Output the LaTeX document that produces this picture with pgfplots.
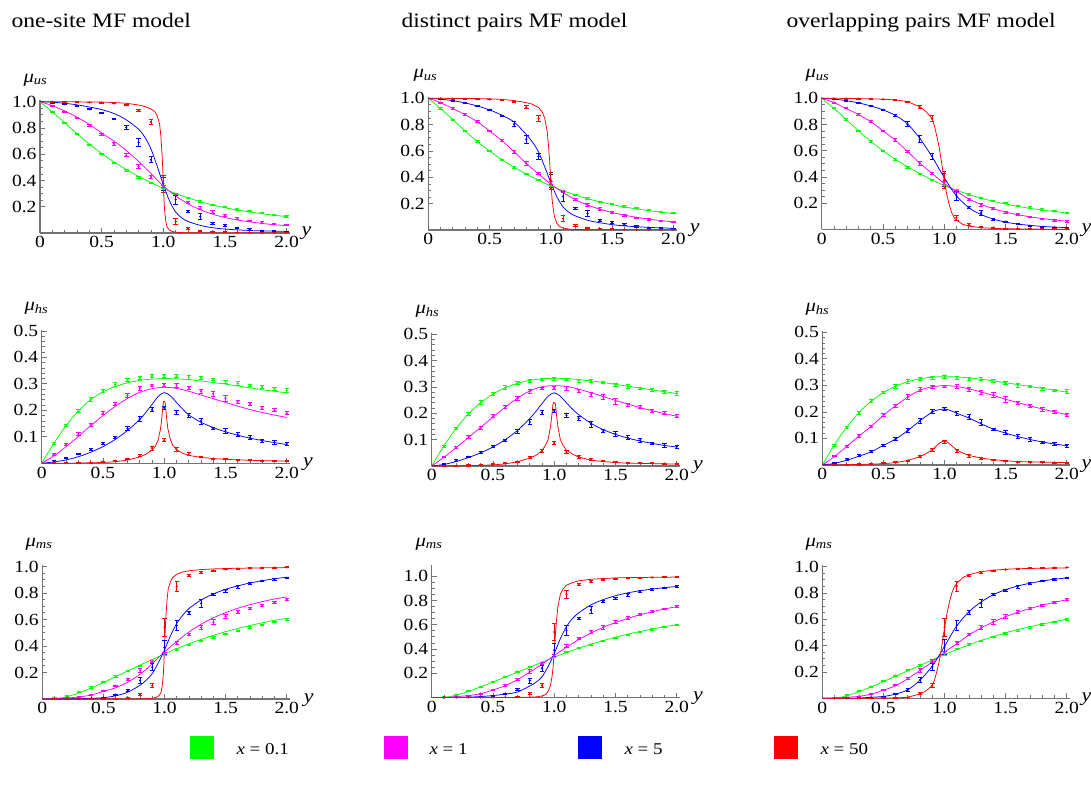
\documentclass[border=0pt]{standalone}
\usepackage{fontspec}
\setmainfont{Liberation Serif}[FakeStretch=1.15]
\usepackage{pgfplots}
\usepackage{pgfplotstable}
\pgfplotsset{compat=1.18}
\definecolor{cg}{RGB}{0,255,0}
\definecolor{cp}{RGB}{255,0,255}
\definecolor{cb}{RGB}{0,0,255}
\definecolor{cr}{RGB}{255,0,0}

% ---------- simulation data (same in all columns) ----------
\pgfplotstableread{
t g ge p pe b be r re
0.1 0.924 0.005 0.967 0.004 0.993 0.003 0.999 0.003
0.2 0.838 0.005 0.924 0.005 0.982 0.003 0.998 0.003
0.3 0.752 0.005 0.877 0.005 0.965 0.003 0.997 0.003
0.4 0.671 0.006 0.822 0.008 0.942 0.004 0.995 0.003
0.5 0.600 0.005 0.751 0.006 0.913 0.004 0.992 0.003
0.6 0.532 0.006 0.680 0.010 0.868 0.005 0.987 0.003
0.7 0.474 0.007 0.593 0.010 0.803 0.018 0.973 0.005
0.8 0.424 0.005 0.505 0.015 0.690 0.030 0.932 0.010
0.9 0.379 0.005 0.427 0.008 0.558 0.022 0.845 0.022
1.0 0.335 0.008 0.355 0.010 0.375 0.050 0.375 0.065
1.1 0.298 0.005 0.292 0.008 0.254 0.035 0.088 0.020
1.2 0.265 0.005 0.230 0.008 0.167 0.008 0.035 0.008
1.3 0.240 0.005 0.188 0.012 0.125 0.022 0.016 0.004
1.4 0.215 0.005 0.158 0.010 0.074 0.007 0.008 0.003
1.5 0.199 0.005 0.132 0.008 0.057 0.006 0.005 0.003
1.6 0.180 0.005 0.112 0.006 0.040 0.006 0.003 0.003
1.7 0.166 0.005 0.093 0.006 0.027 0.004 0.002 0.003
1.8 0.152 0.005 0.080 0.006 0.018 0.004 0.001 0.003
1.9 0.138 0.005 0.068 0.005 0.013 0.003 0.001 0.003
2.0 0.127 0.005 0.060 0.005 0.010 0.003 0.001 0.003
}\dU
\pgfplotstableread{
t g ge p pe b be r re
0.1 0.075 0.004 0.034 0.003 0.007 0.002 0.001 0.002
0.2 0.142 0.004 0.070 0.004 0.020 0.003 0.001 0.002
0.3 0.197 0.005 0.110 0.005 0.035 0.003 0.002 0.002
0.4 0.241 0.007 0.145 0.005 0.052 0.003 0.003 0.002
0.5 0.274 0.005 0.189 0.006 0.074 0.004 0.006 0.002
0.6 0.297 0.008 0.223 0.006 0.098 0.004 0.010 0.002
0.7 0.315 0.007 0.256 0.008 0.131 0.007 0.017 0.002
0.8 0.323 0.006 0.284 0.007 0.167 0.010 0.031 0.004
0.9 0.329 0.005 0.294 0.005 0.203 0.007 0.057 0.007
1.0 0.331 0.006 0.296 0.005 0.210 0.006 0.087 0.006
1.1 0.329 0.005 0.295 0.008 0.193 0.008 0.053 0.007
1.2 0.324 0.006 0.285 0.006 0.181 0.008 0.035 0.005
1.3 0.323 0.006 0.272 0.008 0.159 0.011 0.024 0.003
1.4 0.317 0.005 0.263 0.009 0.133 0.004 0.018 0.002
1.5 0.308 0.005 0.246 0.012 0.122 0.008 0.015 0.002
1.6 0.301 0.007 0.233 0.006 0.108 0.008 0.012 0.002
1.7 0.295 0.004 0.223 0.006 0.097 0.007 0.011 0.002
1.8 0.288 0.006 0.209 0.007 0.085 0.005 0.010 0.002
1.9 0.281 0.004 0.200 0.006 0.079 0.007 0.009 0.002
2.0 0.276 0.007 0.189 0.005 0.073 0.005 0.009 0.002
}\dH
\pgfplotstableread{
t g ge p pe b be r re
0.1 0.006 0.004 0.001 0.003 0.000 0.002 0.000 0.002
0.2 0.025 0.004 0.006 0.003 0.001 0.002 0.000 0.002
0.3 0.054 0.004 0.014 0.003 0.002 0.002 0.000 0.002
0.4 0.088 0.005 0.033 0.004 0.005 0.002 0.000 0.002
0.5 0.130 0.005 0.062 0.004 0.010 0.003 0.001 0.002
0.6 0.171 0.005 0.100 0.006 0.033 0.004 0.002 0.002
0.7 0.213 0.005 0.150 0.007 0.065 0.010 0.006 0.003
0.8 0.250 0.006 0.215 0.015 0.140 0.020 0.035 0.008
0.9 0.287 0.005 0.283 0.010 0.240 0.025 0.100 0.015
1.0 0.334 0.006 0.345 0.010 0.390 0.055 0.540 0.070
1.1 0.376 0.006 0.423 0.012 0.555 0.040 0.850 0.035
1.2 0.408 0.005 0.486 0.010 0.652 0.012 0.932 0.010
1.3 0.436 0.005 0.541 0.015 0.722 0.030 0.957 0.008
1.4 0.466 0.006 0.580 0.018 0.790 0.008 0.970 0.004
1.5 0.493 0.005 0.622 0.015 0.818 0.010 0.978 0.003
1.6 0.516 0.005 0.655 0.010 0.848 0.012 0.984 0.003
1.7 0.539 0.005 0.684 0.008 0.872 0.008 0.987 0.003
1.8 0.561 0.005 0.706 0.008 0.892 0.006 0.990 0.003
1.9 0.582 0.005 0.728 0.006 0.904 0.006 0.992 0.003
2.0 0.600 0.005 0.752 0.006 0.915 0.005 0.994 0.003
}\dM

% ---------- one-site MF model curves ----------
\pgfplotstableread{
t u h m
0 1 0 0
0.1 0.922 0.076 0.002
0.2 0.840 0.143 0.017
0.3 0.756 0.198 0.046
0.4 0.677 0.240 0.083
0.5 0.606 0.270 0.124
0.6 0.541 0.290 0.169
0.7 0.484 0.304 0.212
0.8 0.431 0.313 0.256
0.9 0.384 0.318 0.298
1.0 0.340 0.320 0.340
1.1 0.301 0.319 0.380
1.2 0.268 0.316 0.416
1.3 0.239 0.311 0.450
1.4 0.214 0.305 0.481
1.5 0.193 0.299 0.508
1.6 0.175 0.292 0.533
1.7 0.160 0.285 0.555
1.8 0.147 0.278 0.575
1.9 0.135 0.272 0.593
2.0 0.125 0.266 0.609
}\cAg
\pgfplotstableread{
t u h m
0 1 0 0
0.1 0.970 0.028 0.002
0.2 0.930 0.063 0.007
0.3 0.882 0.102 0.016
0.4 0.828 0.142 0.030
0.5 0.762 0.180 0.058
0.6 0.700 0.215 0.085
0.7 0.628 0.245 0.127
0.8 0.545 0.268 0.187
0.9 0.452 0.282 0.266
1.0 0.357 0.287 0.356
1.1 0.283 0.283 0.434
1.2 0.222 0.272 0.506
1.3 0.177 0.258 0.565
1.4 0.143 0.244 0.613
1.5 0.118 0.230 0.652
1.6 0.099 0.216 0.685
1.7 0.085 0.203 0.712
1.8 0.073 0.192 0.735
1.9 0.063 0.182 0.755
2.0 0.056 0.173 0.771
}\cAp
\pgfplotstableread{
t u h m
0 1 0 0
0.1 0.996 0.005 0.000
0.2 0.988 0.013 0.001
0.3 0.976 0.025 0.002
0.4 0.960 0.042 0.005
0.5 0.940 0.063 0.010
0.6 0.910 0.090 0.024
0.7 0.862 0.124 0.052
0.8 0.790 0.165 0.104
0.85 0.730 0.192 0.142
0.9 0.640 0.222 0.192
0.95 0.510 0.252 0.275
1.0 0.370 0.267 0.370
1.05 0.245 0.255 0.480
1.1 0.160 0.230 0.570
1.15 0.115 0.205 0.633
1.2 0.088 0.183 0.683
1.3 0.058 0.155 0.748
1.4 0.040 0.135 0.793
1.5 0.030 0.119 0.828
1.6 0.024 0.106 0.854
1.7 0.019 0.095 0.876
1.8 0.016 0.086 0.893
1.9 0.014 0.078 0.908
2.0 0.012 0.071 0.919
}\cAb
\pgfplotstableread{
t u h m
0 1 0 0
0.2 1.000 0.000 0.000
0.4 0.998 0.002 0.000
0.5 0.997 0.003 0.000
0.6 0.994 0.006 0.000
0.7 0.988 0.012 0.000
0.8 0.975 0.024 0.001
0.85 0.963 0.034 0.003
0.9 0.945 0.050 0.006
0.93 0.925 0.066 0.012
0.95 0.895 0.088 0.022
0.97 0.830 0.130 0.045
0.98 0.740 0.170 0.090
0.99 0.600 0.220 0.180
0.995 0.500 0.233 0.270
1.0 0.383 0.234 0.383
1.005 0.270 0.233 0.500
1.01 0.180 0.220 0.600
1.02 0.090 0.170 0.740
1.03 0.045 0.130 0.830
1.05 0.022 0.090 0.890
1.07 0.012 0.068 0.920
1.1 0.006 0.052 0.942
1.15 0.003 0.038 0.959
1.2 0.002 0.030 0.968
1.3 0.001 0.022 0.977
1.4 0.000 0.018 0.982
1.5 0.000 0.015 0.985
1.6 0.000 0.013 0.987
1.8 0.000 0.010 0.990
2.0 0.000 0.008 0.992
}\cAr

% ---------- distinct pairs MF model curves ----------
\pgfplotstableread{
t u h m
0 1 0 0
0.1 0.967 0.033 0.000
0.2 0.922 0.070 0.008
0.3 0.876 0.108 0.016
0.4 0.822 0.147 0.031
0.5 0.752 0.186 0.062
0.6 0.680 0.223 0.097
0.7 0.595 0.258 0.147
0.8 0.505 0.285 0.210
0.9 0.425 0.301 0.274
1.0 0.348 0.305 0.347
1.1 0.285 0.302 0.413
1.2 0.230 0.292 0.478
1.3 0.190 0.278 0.532
1.4 0.158 0.264 0.578
1.5 0.133 0.249 0.618
1.6 0.113 0.235 0.652
1.7 0.096 0.222 0.682
1.8 0.083 0.210 0.707
1.9 0.071 0.199 0.730
2.0 0.062 0.189 0.749
}\cBp
\pgfplotstableread{
t u h m
0 1 0 0
0.1 0.994 0.006 0.000
0.2 0.982 0.017 0.001
0.3 0.965 0.032 0.003
0.4 0.942 0.050 0.008
0.5 0.912 0.072 0.016
0.6 0.872 0.100 0.028
0.7 0.820 0.135 0.045
0.8 0.725 0.180 0.095
0.85 0.668 0.207 0.125
0.9 0.592 0.237 0.171
0.95 0.480 0.265 0.255
1.0 0.361 0.278 0.361
1.05 0.250 0.265 0.485
1.1 0.175 0.240 0.585
1.15 0.133 0.215 0.652
1.2 0.107 0.195 0.698
1.3 0.074 0.162 0.764
1.4 0.055 0.138 0.807
1.5 0.041 0.120 0.839
1.6 0.031 0.106 0.863
1.7 0.025 0.095 0.880
1.8 0.020 0.086 0.894
1.9 0.016 0.078 0.906
2.0 0.013 0.072 0.915
}\cBb
\pgfplotstableread{
t u h m
0 1 0 0
0.3 0.999 0.001 0.000
0.5 0.996 0.004 0.000
0.6 0.992 0.008 0.000
0.7 0.983 0.016 0.001
0.8 0.967 0.030 0.003
0.85 0.955 0.040 0.005
0.9 0.930 0.058 0.012
0.93 0.895 0.080 0.025
0.95 0.850 0.100 0.050
0.97 0.750 0.150 0.100
0.98 0.650 0.190 0.160
0.99 0.530 0.235 0.235
0.995 0.450 0.240 0.310
1.0 0.380 0.241 0.380
1.005 0.310 0.240 0.450
1.01 0.235 0.235 0.530
1.02 0.160 0.190 0.650
1.03 0.100 0.150 0.750
1.05 0.050 0.100 0.850
1.07 0.028 0.080 0.892
1.1 0.014 0.060 0.926
1.15 0.007 0.045 0.948
1.2 0.004 0.034 0.962
1.3 0.003 0.022 0.975
1.4 0.002 0.017 0.981
1.5 0.001 0.013 0.986
1.6 0.001 0.011 0.988
1.8 0.000 0.009 0.991
2.0 0.000 0.007 0.993
}\cBr

% ---------- overlapping pairs MF model curves ----------
\pgfplotstableread{
t u h m
0 1 0 0
0.1 0.922 0.077 0.001
0.2 0.838 0.143 0.019
0.3 0.752 0.198 0.050
0.4 0.672 0.240 0.088
0.5 0.600 0.273 0.127
0.6 0.535 0.297 0.168
0.7 0.477 0.314 0.209
0.8 0.425 0.325 0.250
0.9 0.378 0.331 0.291
1.0 0.334 0.333 0.333
1.1 0.298 0.332 0.370
1.2 0.266 0.328 0.406
1.3 0.238 0.323 0.439
1.4 0.214 0.317 0.469
1.5 0.193 0.310 0.497
1.6 0.175 0.303 0.522
1.7 0.160 0.296 0.544
1.8 0.147 0.289 0.564
1.9 0.135 0.282 0.583
2.0 0.125 0.275 0.600
}\cCg
\pgfplotstableread{
t u h m
0 1 0 0
0.1 0.967 0.032 0.001
0.2 0.922 0.070 0.008
0.3 0.876 0.109 0.015
0.4 0.822 0.146 0.032
0.5 0.752 0.187 0.061
0.6 0.680 0.224 0.096
0.7 0.595 0.256 0.149
0.8 0.505 0.282 0.213
0.9 0.428 0.295 0.277
1.0 0.350 0.299 0.351
1.1 0.290 0.296 0.414
1.2 0.232 0.287 0.481
1.3 0.190 0.275 0.535
1.4 0.158 0.262 0.580
1.5 0.132 0.248 0.620
1.6 0.112 0.235 0.653
1.7 0.095 0.223 0.682
1.8 0.082 0.211 0.707
1.9 0.071 0.200 0.729
2.0 0.062 0.190 0.748
}\cCp
\pgfplotstableread{
t u h m
0 1 0 0
0.1 0.994 0.006 0.000
0.2 0.982 0.018 0.000
0.3 0.965 0.033 0.002
0.4 0.942 0.050 0.008
0.5 0.912 0.074 0.014
0.6 0.870 0.098 0.032
0.7 0.805 0.130 0.065
0.8 0.695 0.167 0.138
0.9 0.555 0.200 0.245
0.95 0.475 0.208 0.317
1.0 0.395 0.211 0.394
1.05 0.320 0.205 0.475
1.1 0.255 0.195 0.550
1.2 0.165 0.177 0.658
1.3 0.113 0.155 0.732
1.4 0.078 0.135 0.787
1.5 0.055 0.120 0.825
1.6 0.040 0.107 0.853
1.7 0.030 0.096 0.874
1.8 0.022 0.087 0.891
1.9 0.017 0.079 0.904
2.0 0.013 0.073 0.914
}\cCb
\pgfplotstableread{
t u h m
0 1 0 0
0.1 1.000 0.000 0.000
0.2 0.999 0.001 0.000
0.3 0.998 0.002 0.000
0.4 0.996 0.003 0.001
0.5 0.993 0.005 0.002
0.6 0.988 0.009 0.003
0.7 0.975 0.017 0.008
0.8 0.935 0.032 0.033
0.85 0.900 0.043 0.057
0.9 0.845 0.058 0.097
0.92 0.790 0.066 0.144
0.94 0.710 0.075 0.215
0.96 0.620 0.083 0.297
0.98 0.500 0.088 0.412
1.0 0.375 0.090 0.535
1.02 0.270 0.087 0.643
1.04 0.190 0.080 0.730
1.06 0.130 0.072 0.798
1.08 0.090 0.064 0.846
1.1 0.070 0.057 0.873
1.15 0.038 0.045 0.917
1.2 0.025 0.036 0.939
1.3 0.012 0.026 0.962
1.4 0.007 0.020 0.973
1.5 0.004 0.016 0.980
1.6 0.003 0.013 0.984
1.7 0.002 0.012 0.986
1.8 0.001 0.011 0.988
1.9 0.001 0.010 0.989
2.0 0.001 0.009 0.990
}\cCr

\pgfplotsset{
  panel/.style={scale only axis, axis lines=left,
    axis line style={-, black!55, line width=1.3pt},
    xmin=0, xmax=2.03, ymin=0, anchor=south west,
    tick align=inside, major tick length=5pt, minor tick length=3pt,
    tick style={black!55, line width=0.8pt},
    xtick={0,0.5,1,1.5,2}, xticklabels={0,0.5,1.0,1.5,2.0},
    minor x tick num=4,
    tick label style={font=\fontsize{17}{17}\selectfont, black}},
  topp/.style={ymax=1.01, ytick={0.2,0.4,0.6,0.8,1.0},
    yticklabels={0.2,0.4,0.6,0.8,1.0}, minor y tick num=3},
  midp/.style={ymax=0.505, ytick={0.1,0.2,0.3,0.4,0.5},
    yticklabels={0.1,0.2,0.3,0.4,0.5}, minor y tick num=4},
  crv/.style={line width=0.75pt, no markers},
  pts/.style={only marks, mark=*, mark size=0.9pt,
    error bars/y dir=both, error bars/y explicit,
    error bars/error bar style={line width=0.9pt},
    error bars/error mark options={rotate=90, mark size=2.2pt, line width=0.9pt}},
}

\newcommand{\curves}[5]{% #1 column u/h/m, #2..#5 tables
  \addplot[cg,crv,smooth] table[x=t,y=#1]{#2};
  \addplot[cp,crv,smooth] table[x=t,y=#1]{#3};
  \addplot[cb,crv,smooth] table[x=t,y=#1]{#4};
  \addplot[cr,crv] table[x=t,y=#1]{#5};}
\newcommand{\points}[1]{%
  \addplot[cg,pts] table[x=t,y=g,y error=ge]{#1};
  \addplot[cp,pts] table[x=t,y=p,y error=pe]{#1};
  \addplot[cb,pts] table[x=t,y=b,y error=be]{#1};
  \addplot[cr,pts] table[x=t,y=r,y error=re]{#1};}

\newcommand{\mulab}[3]{\node[anchor=base west, font=\fontsize{18}{18}\selectfont] at (#1,#2) {\textit{μ}\textsubscript{\textit{#3}}};}
\newcommand{\ylab}[2]{\node[anchor=base west, font=\fontsize{19}{19}\selectfont] at (#1,#2) {\textit{y}};}

\begin{document}
\begin{tikzpicture}[x=1pt,y=1pt]
\path[use as bounding box] (0,0) rectangle (1091,785);

% ---- row 1 ----
\begin{axis}[panel, topp, at={(40pt,552pt)}, width=250.3pt, height=132.6pt]
\curves{u}{\cAg}{\cAp}{\cAb}{\cAr}
\points{\dU}
\end{axis}
\begin{axis}[panel, topp, at={(428.3pt,555pt)}, width=248.7pt, height=133pt]
\curves{u}{\cCg}{\cBp}{\cBb}{\cBr}
\points{\dU}
\end{axis}
\begin{axis}[panel, topp, at={(821.7pt,555.7pt)}, width=248.7pt, height=132.3pt]
\curves{u}{\cCg}{\cCp}{\cCb}{\cCr}
\points{\dU}
\end{axis}
% ---- row 2 ----
\begin{axis}[panel, midp, at={(41.7pt,321.7pt)}, width=248.7pt, height=133.7pt]
\curves{h}{\cAg}{\cAp}{\cAb}{\cAr}
\points{\dH}
\end{axis}
\begin{axis}[panel, midp, at={(431.7pt,319pt)}, width=248.7pt, height=133pt]
\curves{h}{\cCg}{\cBp}{\cBb}{\cBr}
\points{\dH}
\end{axis}
\begin{axis}[panel, midp, at={(822.3pt,320pt)}, width=248.1pt, height=134pt]
\curves{h}{\cCg}{\cCp}{\cCb}{\cCr}
\points{\dH}
\end{axis}
% ---- row 3 ----
\begin{axis}[panel, topp, at={(42.3pt,86pt)}, width=248.1pt, height=133.8pt]
\curves{m}{\cAg}{\cAp}{\cAb}{\cAr}
\points{\dM}
\end{axis}
\begin{axis}[panel, topp, ymax=1.09, at={(431.7pt,87.5pt)}, width=248.7pt, height=132.2pt]
\curves{m}{\cCg}{\cBp}{\cBb}{\cBr}
\points{\dM}
\end{axis}
\begin{axis}[panel, topp, at={(822.3pt,86.7pt)}, width=248.1pt, height=133pt]
\curves{m}{\cCg}{\cCp}{\cCb}{\cCr}
\points{\dM}
\end{axis}

% ---- titles ----
\node[anchor=base west, font=\fontsize{20.5}{20.5}\selectfont] at (8,757) {one-site MF model};
\node[anchor=base west, font=\fontsize{20.5}{20.5}\selectfont] at (398,757) {distinct pairs MF model};
\node[anchor=base west, font=\fontsize{20.5}{20.5}\selectfont] at (783,757) {overlapping pairs MF model};

% ---- axis labels ----
\mulab{20}{702.6}{us} \mulab{410}{707}{us} \mulab{802}{707}{us}
\mulab{21}{474}{hs} \mulab{412}{471}{hs} \mulab{802}{473}{hs}
\mulab{22}{238.8}{ms} \mulab{412}{238.7}{ms} \mulab{802}{238.7}{ms}
\ylab{298}{549} \ylab{686.3}{552} \ylab{1078}{552.7}
\ylab{299.7}{318.7} \ylab{689.7}{316} \ylab{1078}{317}
\ylab{300.3}{83} \ylab{689.7}{84.5} \ylab{1078}{83.7}

% ---- legend ----
\fill[cg] (190,26) rectangle (214,49);
\node[anchor=base west, font=\fontsize{16.5}{16.5}\selectfont] at (233,31) {\textit{x} = 0.1};
\fill[cp] (384,26) rectangle (408,49);
\node[anchor=base west, font=\fontsize{16.5}{16.5}\selectfont] at (426,31) {\textit{x} = 1};
\fill[cb] (578,26) rectangle (602,49);
\node[anchor=base west, font=\fontsize{16.5}{16.5}\selectfont] at (621,31) {\textit{x} = 5};
\fill[cr] (774,26) rectangle (798,49);
\node[anchor=base west, font=\fontsize{16.5}{16.5}\selectfont] at (817,31) {\textit{x} = 50};
\end{tikzpicture}
\end{document}
